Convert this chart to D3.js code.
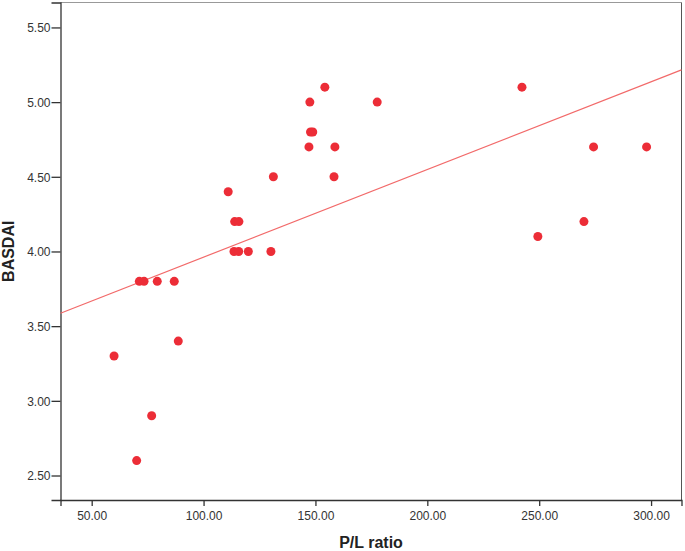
<!DOCTYPE html>
<html>
<head>
<meta charset="utf-8">
<script src="https://cdn.jsdelivr.net/npm/d3@7"></script>
<style>
  body { margin: 0; background: #fff; }
  svg text { font-family: "Liberation Sans", Arial, sans-serif; fill: #222; }
</style>
</head>
<body>
<svg id="chart" width="685" height="551"></svg>
<script>
// P/L ratio vs BASDAI
const plRatio = [
    154.2, 147.5, 177.6, 242.3,
    147.8, 148.8,
    147.1, 158.7, 274.3, 298.0,
    131.2, 158.3,
    111.0,
    113.9, 115.8, 270.0,
    249.4,
    113.6, 115.7, 120.0, 130.1,
    71.3, 73.4, 79.3, 86.9,
    88.7, 60.0, 76.8, 70.1
];
const basdai = [
    5.1, 5.0, 5.0, 5.1,
    4.8, 4.8,
    4.7, 4.7, 4.7, 4.7,
    4.5, 4.5,
    4.4,
    4.2, 4.2, 4.2,
    4.1,
    4.0, 4.0, 4.0, 4.0,
    3.8, 3.8, 3.8, 3.8,
    3.4, 3.3, 2.9, 2.6
];
const xTicks = [50, 100, 150, 200, 250, 300];
const yTicks = [2.5, 3.0, 3.5, 4.0, 4.5, 5.0, 5.5];
// fit line as drawn in the original
const fitIntercept = 3.375;
const fitSlope = 0.00587;

const svg = d3.select("#chart");
const plotLeft = 60.5, plotRight = 681.5, plotTop = 2.5, plotBottom = 500;

const xscale = d3.scaleLinear().domain([36.06, 313.6]).range([plotLeft, plotRight]);
const yscale = d3.scaleLinear().domain([2.336, 5.667]).range([plotBottom, plotTop]);

const points = plRatio.map((x, i) => ({x: x, y: basdai[i]}));

// frame
svg.append("line").attr("x1", plotLeft).attr("x2", plotRight).attr("y1", plotTop).attr("y2", plotTop)
    .attr("stroke", "#999");
svg.append("line").attr("x1", plotRight).attr("x2", plotRight).attr("y1", plotTop).attr("y2", plotBottom)
    .attr("stroke", "#555");

const xAxis = svg.append("g")
    .attr("transform", `translate(0,${plotBottom})`)
    .call(d3.axisBottom(xscale).tickValues(xTicks).tickFormat(d3.format(".2f")).tickSize(6).tickPadding(5));
const yAxis = svg.append("g")
    .attr("transform", `translate(${plotLeft},0)`)
    .call(d3.axisLeft(yscale).tickValues(yTicks).tickFormat(d3.format(".2f")).tickSize(9).tickPadding(1));

[xAxis, yAxis].forEach(ax => {
    ax.select(".domain").attr("stroke", "#333").attr("stroke-width", 1.3);
    ax.selectAll(".tick line").attr("stroke", "#333").attr("stroke-width", 1.3);
    ax.selectAll(".tick text").attr("font-size", 12).style("fill", "#333")
        .attr("font-family", "Liberation Sans, Arial, sans-serif");
});
yAxis.selectAll(".tick text").attr("dy", "0.36em");

// fit line
const xd = xscale.domain();
svg.append("line")
    .attr("x1", xscale(xd[0])).attr("y1", yscale(fitIntercept + fitSlope * xd[0]))
    .attr("x2", xscale(xd[1])).attr("y2", yscale(fitIntercept + fitSlope * xd[1]))
    .attr("stroke", "#f26a6a")
    .attr("stroke-width", 1.2);

svg.selectAll(".points").data(points).join("circle")
    .attr("class", "points")
    .attr("cx", d => xscale(d.x))
    .attr("cy", d => yscale(d.y))
    .attr("r", 4.5)
    .attr("fill", "#ec2d37");

svg.append("text")
    .attr("x", (plotLeft + plotRight) / 2).attr("y", 548)
    .attr("text-anchor", "middle")
    .attr("font-size", 16).attr("font-weight", "bold")
    .text("P/L ratio");

svg.append("text")
    .attr("transform", `translate(14,${(plotTop + plotBottom) / 2}) rotate(-90)`)
    .attr("text-anchor", "middle")
    .attr("font-size", 16).attr("font-weight", "bold")
    .text("BASDAI");
</script>
</body>
</html>
